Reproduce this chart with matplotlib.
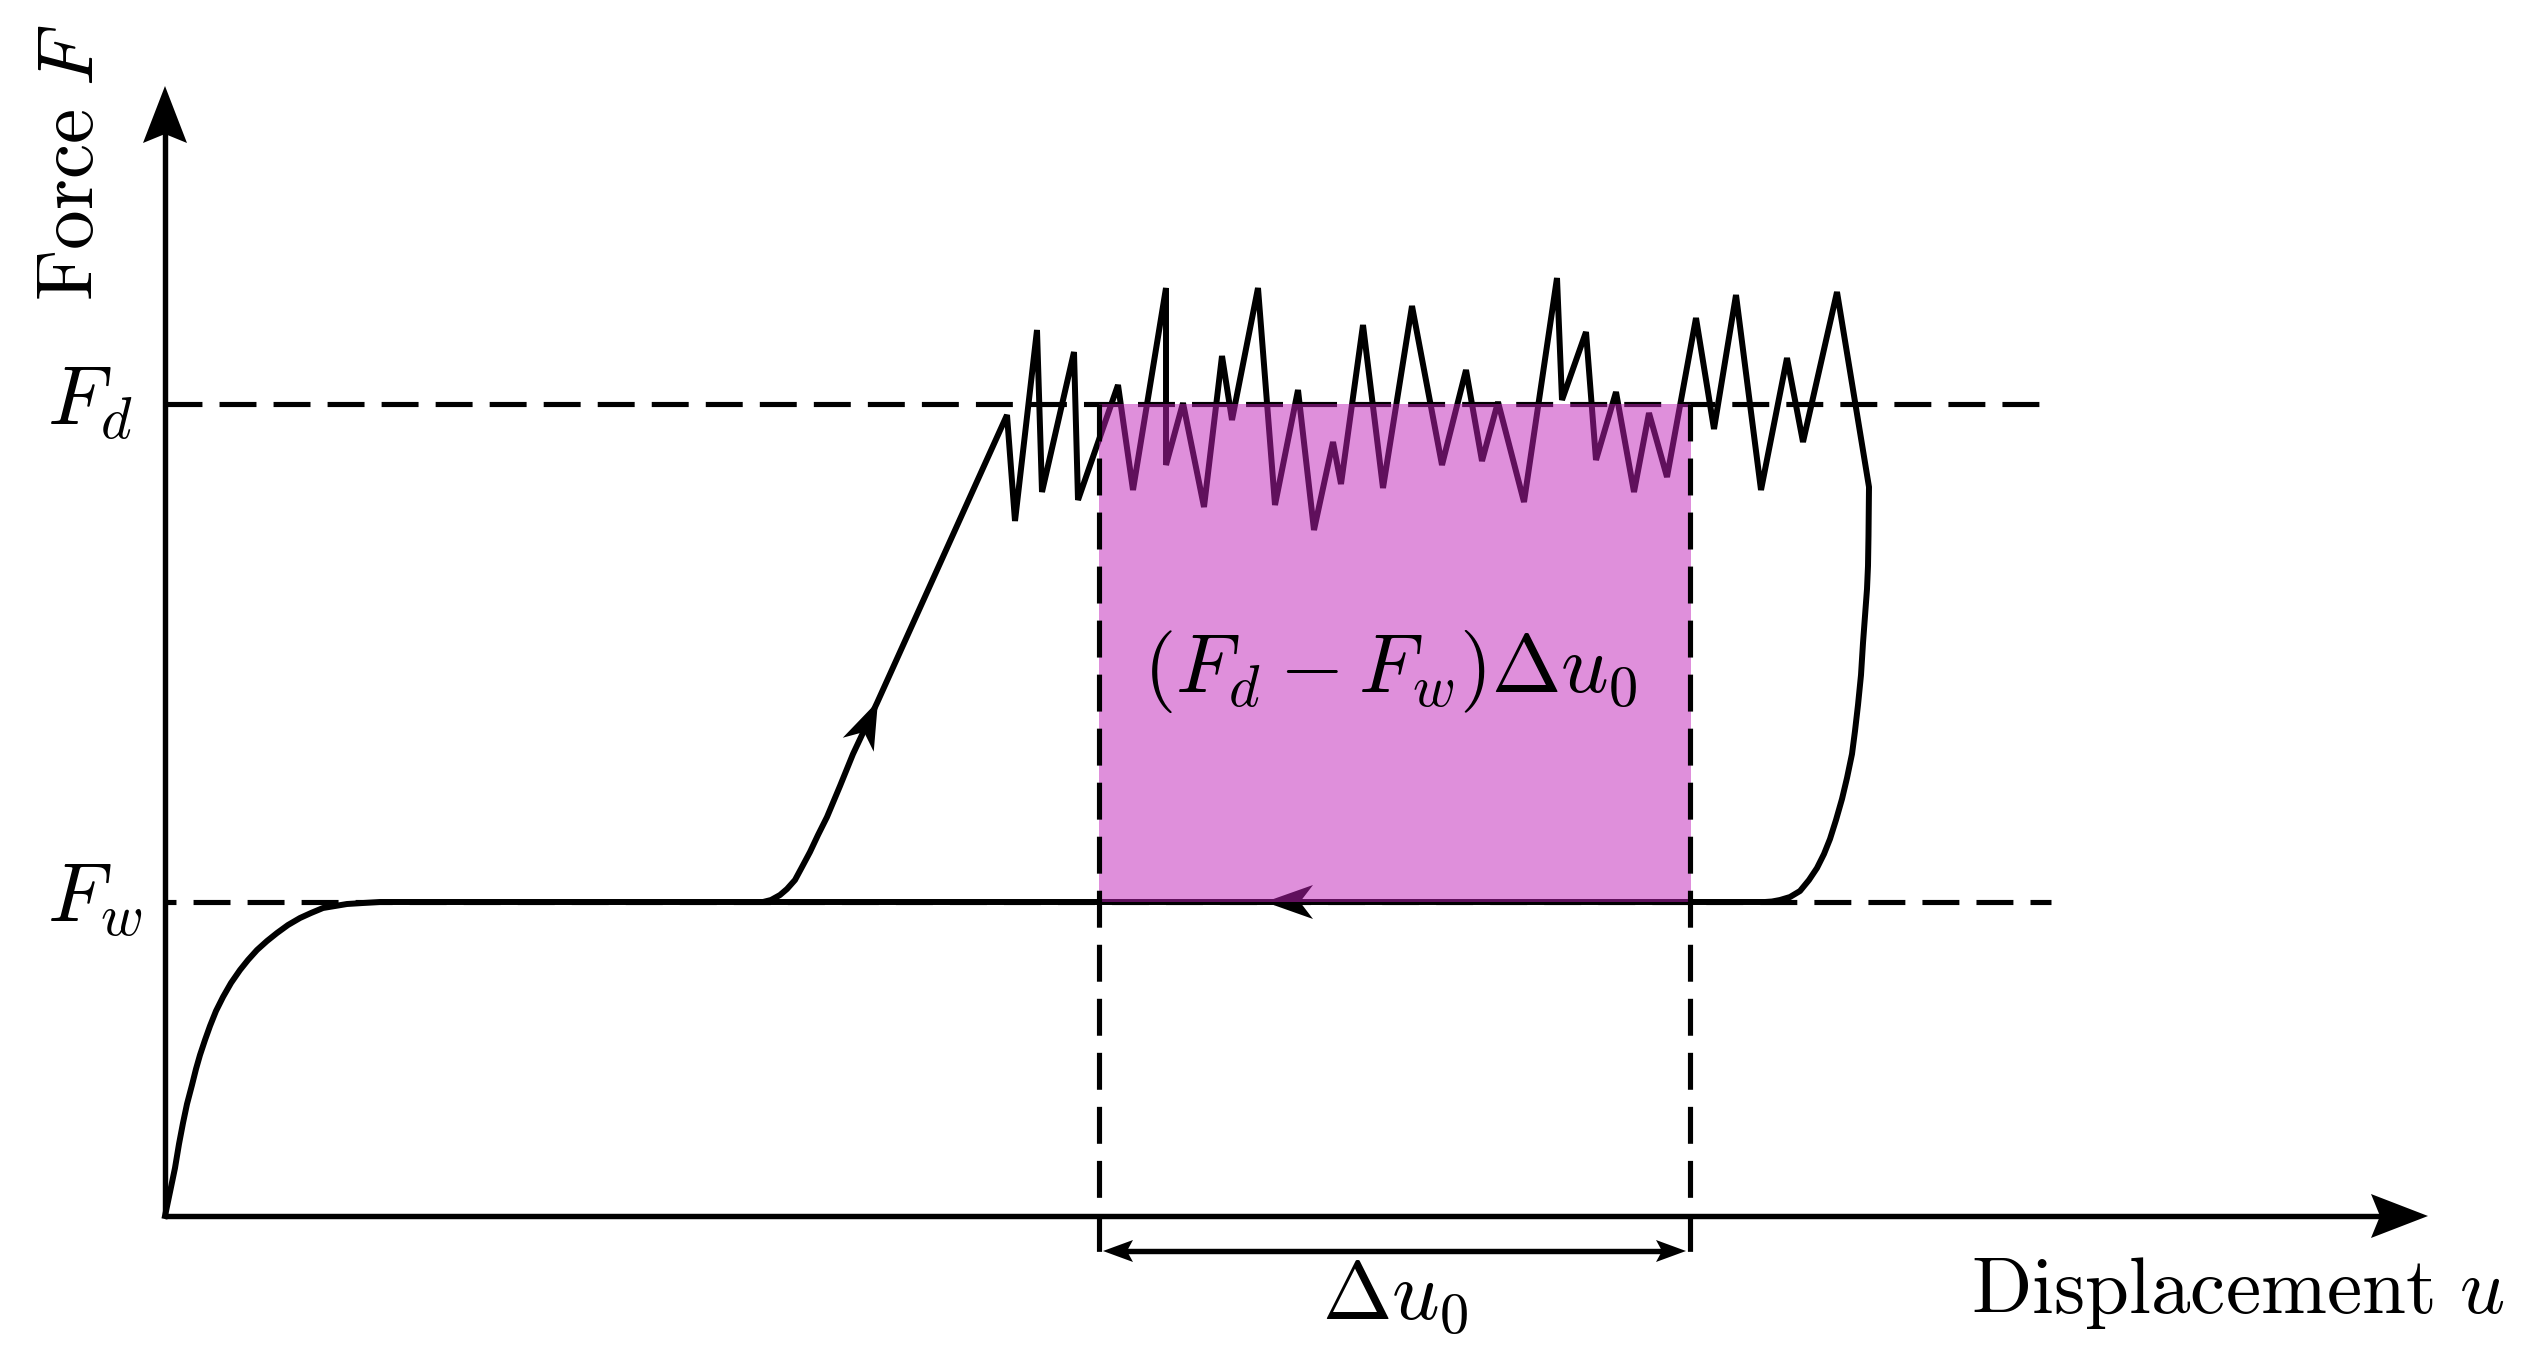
import numpy as np
import matplotlib
matplotlib.use('Agg')
import matplotlib.pyplot as plt
from matplotlib.patches import Polygon, Rectangle

plt.rcParams['mathtext.fontset'] = 'cm'
plt.rcParams['font.family'] = 'cmr10'
plt.rcParams['axes.formatter.use_mathtext'] = True
plt.rcParams['lines.scale_dashes'] = False

# Force levels and the slip interval, in pixels above / right of the origin
F_d = 812
F_w = 314
u_start = 934
u_end = 1525

# Loading branch up to the first peak
u_load = [0, 5, 10, 14, 18, 22, 27, 31, 35, 40, 45, 51, 58, 66, 75, 83, 92, 102, 112,
          123, 135, 146, 158, 170, 182, 198, 215, 598, 606, 615, 622, 630, 637, 645,
          653, 662, 675, 688, 712, 842]
F_load = [0, 24, 48, 72, 93, 112, 131, 147, 161, 176, 190, 205, 219, 233, 246, 256, 266, 275, 283,
          291, 298, 303, 308, 310, 312, 313, 314, 314, 316, 321, 327, 336, 349, 364,
          381, 399, 430, 462, 513, 801]

# Stick-slip zigzag
u_zig = [850, 872, 877, 909, 913, 953, 968, 1001, 1001, 1018, 1039, 1057, 1067,
         1093, 1110, 1133, 1149, 1168, 1176, 1198, 1218, 1247, 1277, 1301, 1317,
         1333, 1359, 1392, 1397, 1421, 1431, 1451, 1469, 1484, 1502, 1531, 1549,
         1571, 1596, 1622, 1638, 1672, 1704]
F_zig = [695, 886, 724, 864, 716, 831, 726, 928, 751, 813, 709, 860, 796,
         928, 711, 826, 686, 774, 732, 891, 728, 910, 751, 846, 755,
         814, 714, 938, 816, 884, 756, 824, 724, 803, 739, 898, 787,
         921, 726, 858, 774, 924, 729]

# Unloading branch and the way back along F_w
u_unload = [1703.5, 1703, 1702, 1700, 1698, 1696, 1693, 1690, 1687, 1682, 1677, 1671, 1665,
            1659, 1652, 1644, 1635, 1625, 1615, 1607, 1600, 598]
F_unload = [680, 650, 627, 600, 573, 541, 511, 485, 462, 438, 417, 396, 377,
            362, 348, 336, 325, 319, 316, 314.5, 314, 314]

u_curve = u_load + u_zig + u_unload
F_curve = F_load + F_zig + F_unload

LW = 4.3
LW_AXIS = 3.9
LW_DASH = 3.7
DASH = (26.6, 12.3)


def arrow_head(ax, tip, angle, length, half, notch, **kw):
    # stealth style head, angle in degrees
    d = np.array([np.cos(np.radians(angle)), np.sin(np.radians(angle))])
    n = np.array([-d[1], d[0]])
    tip = np.array(tip, dtype=float)
    pts = [tip, tip - length * d + half * n, tip - notch * d, tip - length * d - half * n]
    ax.add_patch(Polygon(pts, closed=True, facecolor='k', edgecolor='none', **kw))


fig = plt.figure(figsize=(25.3, 13.58), dpi=100)
ax = fig.add_axes([0, 0, 1, 1])
ax.set_xlim(-165, 2365)
ax.set_ylim(-142, 1216)
ax.axis('off')

# Dashed levels
ax.plot([0, 1877], [F_d, F_d], color='k', lw=LW_DASH, ls=(0, DASH), zorder=1)
ax.plot([0, 1886], [F_w, F_w], color='k', lw=LW_DASH, ls=(18.7, DASH), zorder=1)

# Force displacement curve
ax.plot(u_curve, F_curve, color='k', lw=LW, solid_joinstyle='bevel', zorder=2)
arrow_head(ax, (713, 515), 65.7, 48, 17, 34, zorder=2)
arrow_head(ax, (1100, F_w), 180, 48, 17, 35, zorder=2)

# Dissipated work
ax.fill_between([u_start, u_end + 1], F_w, F_d, color='#C020B8', alpha=0.5, lw=0, zorder=3)

# Vertical dashed lines
for u in [u_start, u_end]:
    ax.plot([u, u], [F_d, -36], color='k', lw=LW_DASH, ls=(0, DASH), zorder=4)

# Axes
ax.plot([0, 2230], [0, 0], color='k', lw=LW_AXIS, solid_capstyle='butt', zorder=5)
ax.plot([0, 0], [0, 1090], color='k', lw=LW_AXIS, solid_capstyle='butt', zorder=5)
arrow_head(ax, (2263, 0), 0, 57, 22, 48, zorder=5)
arrow_head(ax, (0, 1130), 90, 57, 22, 48, zorder=5)

# Delta u_0 dimension line
ax.plot([u_start + 20, u_end - 20], [-35, -35], color='k', lw=LW_AXIS, solid_capstyle='butt', zorder=5)
arrow_head(ax, (u_start + 4, -35), 180, 30, 11, 24, zorder=5)
arrow_head(ax, (u_end - 4, -35), 0, 30, 11, 24, zorder=5)

# Labels
fs = 60
ax.text(-118, 791, r'$F_d$', fontsize=fs, ha='left', va='baseline', zorder=6)
ax.text(-118, 294, r'$F_w$', fontsize=fs, ha='left', va='baseline', zorder=6)
ax.text(978, 524, r'$(F_d - F_w)\Delta u_0$', fontsize=fs, ha='left', va='baseline', zorder=6)
ax.text(1157, -103, r'$\Delta u_0$', fontsize=fs, ha='left', va='baseline', zorder=6)
ax.text(1806, -97, r'$\mathrm{Displacement}\ u$', fontsize=57, ha='left', va='baseline', zorder=6)
t = ax.text(-72, 915, r'$\mathrm{Force}\ F$', fontsize=57, rotation=90, rotation_mode='anchor',
            ha='left', va='baseline', zorder=6)
# the F is cut off at the top in the original
t.set_clip_path(Rectangle((-165, -142), 2530, 1325, transform=ax.transData))

fig.savefig('out.png', dpi=100, facecolor='white')
